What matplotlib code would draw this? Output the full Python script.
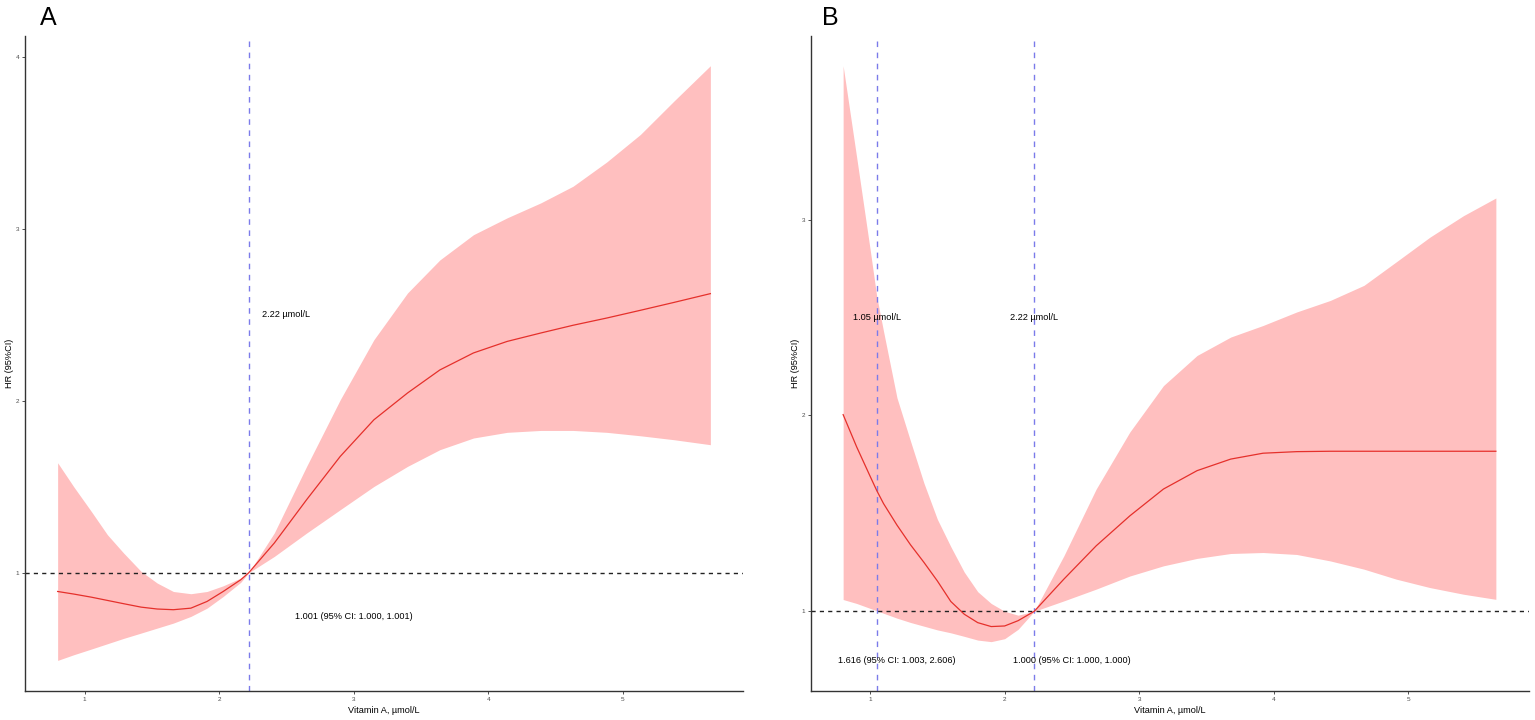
import matplotlib
matplotlib.use("Agg")
import matplotlib.pyplot as plt

plt.rcParams['font.family'] = ['Liberation Sans', 'DejaVu Sans']

# ---------------- Panel A data ----------------
a_x = [0.80, 0.92, 1.05, 1.17, 1.29, 1.42, 1.54, 1.66, 1.79, 1.91, 2.03, 2.16, 2.22,
       2.41, 2.65, 2.90, 3.15, 3.40, 3.64, 3.89, 4.14, 4.39, 4.63, 4.88, 5.13, 5.38, 5.65]
a_hr = [0.891, 0.876, 0.858, 0.839, 0.820, 0.800, 0.789, 0.785, 0.794, 0.833, 0.891, 0.959, 1.000,
        1.173, 1.425, 1.677, 1.890, 2.046, 2.180, 2.279, 2.346, 2.395, 2.440, 2.482, 2.527, 2.573, 2.624]
a_lo = [0.490, 0.523, 0.556, 0.587, 0.618, 0.649, 0.678, 0.707, 0.746, 0.794, 0.862, 0.944, 1.000,
        1.095, 1.231, 1.367, 1.502, 1.619, 1.716, 1.784, 1.817, 1.828, 1.828, 1.817, 1.797, 1.774, 1.745]
a_hi = [1.640, 1.500, 1.357, 1.221, 1.115, 1.008, 0.940, 0.891, 0.878, 0.891, 0.924, 0.969, 1.000,
        1.232, 1.619, 2.007, 2.356, 2.628, 2.820, 2.967, 3.065, 3.152, 3.249, 3.390, 3.550, 3.745, 3.950]
a_cuts = [2.22]
a_labels = [(2.50, 2.50, "2.22 \u00b5mol/L"), (3.00, 0.745, "1.001 (95% CI: 1.000, 1.001)")]
a_yticks = [1, 2, 3, 4]

# ---------------- Panel B data ----------------
b_x = [0.80, 0.90, 1.00, 1.05, 1.10, 1.20, 1.30, 1.40, 1.50, 1.60, 1.70, 1.80, 1.90, 2.00, 2.10, 2.22,
       2.44, 2.68, 2.93, 3.18, 3.43, 3.68, 3.92, 4.17, 4.42, 4.67, 4.91, 5.16, 5.41, 5.65]
b_hr = [2.004, 1.840, 1.690, 1.616, 1.550, 1.440, 1.340, 1.250, 1.155, 1.050, 0.985, 0.942, 0.922, 0.925, 0.952, 1.000,
        1.164, 1.334, 1.487, 1.624, 1.718, 1.777, 1.807, 1.815, 1.817, 1.817, 1.817, 1.817, 1.817, 1.817]
b_lo = [1.060, 1.040, 1.015, 1.003, 0.990, 0.965, 0.943, 0.924, 0.905, 0.890, 0.872, 0.853, 0.845, 0.860, 0.908, 1.000,
        1.053, 1.113, 1.180, 1.232, 1.270, 1.295, 1.300, 1.290, 1.257, 1.215, 1.164, 1.121, 1.087, 1.061]
b_hi = [3.785, 3.320, 2.850, 2.606, 2.430, 2.090, 1.870, 1.655, 1.470, 1.330, 1.200, 1.100, 1.040, 1.000, 0.980, 1.000,
        1.283, 1.624, 1.915, 2.152, 2.306, 2.400, 2.459, 2.528, 2.587, 2.664, 2.784, 2.910, 3.020, 3.110]
b_cuts = [1.05, 2.22]
b_labels = [(1.05, 2.50, "1.05 \u00b5mol/L"), (2.22, 2.50, "2.22 \u00b5mol/L"),
            (1.20, 0.75, "1.616 (95% CI: 1.003, 2.606)"), (2.50, 0.75, "1.000 (95% CI: 1.000, 1.000)")]
b_yticks = [1, 2, 3]

x_ticks = [1, 2, 3, 4, 5]

FILL = '#FFBFBF'
LINE = '#E5302B'
VCOL = '#7B7BEA'

fig = plt.figure(figsize=(15.35, 7.2), dpi=100)
W, H = 1535.0, 720.0

def make_axes(left_px, right_px):
    return fig.add_axes([left_px / W, 1 - 691 / H, (right_px - left_px) / W, (691 - 36) / H])

def draw(ax, x, hr, lo, hi, cuts, labels, yticks, ylim):
    ax.fill_between(x, lo, hi, color=FILL, linewidth=0, zorder=1)
    ax.plot(x, hr, color=LINE, linewidth=0.9, zorder=3, solid_joinstyle='round')
    for c in cuts:
        ax.axvline(c, color=VCOL, linewidth=1.0, dashes=(4, 4), zorder=2)
    ax.axhline(1, color='#222222', linewidth=1.0, dashes=(3, 3), zorder=2)
    for tx, ty, s in labels:
        ax.text(tx, ty, s, ha='center', va='center', fontsize=6.6, color='black', zorder=4)
    ax.set_xlim(0.5575, 5.8925)
    ax.set_ylim(*ylim)
    ax.set_xticks(x_ticks)
    ax.set_xticklabels([str(t) for t in x_ticks])
    ax.set_yticks(yticks)
    ax.set_yticklabels([str(t) for t in yticks])
    for side in ('top', 'right'):
        ax.spines[side].set_visible(False)
    for side in ('left', 'bottom'):
        ax.spines[side].set_color('#333333')
        ax.spines[side].set_linewidth(1.0)
    ax.tick_params(axis='both', length=2.5, width=0.6, color='#333333',
                   labelsize=4.6, labelcolor='#4D4D4D', pad=1.5)
    ax.set_xlabel("Vitamin A, \u00b5mol/L", fontsize=6.6, labelpad=3)
    ax.set_ylabel("HR (95%CI)", fontsize=6.6, labelpad=1)

axA = make_axes(25, 743)
draw(axA, a_x, a_hr, a_lo, a_hi, a_cuts, a_labels, a_yticks, (0.312, 4.123))
axB = make_axes(810.5, 1528.5)
draw(axB, b_x, b_hr, b_lo, b_hi, b_cuts, b_labels, b_yticks, (0.593, 3.937))

fig.text(40 / W, 1 - 18 / H, "A", fontsize=18, ha='left', va='center')
fig.text(822 / W, 1 - 18 / H, "B", fontsize=18, ha='left', va='center')

fig.savefig("out.png", dpi=100)
